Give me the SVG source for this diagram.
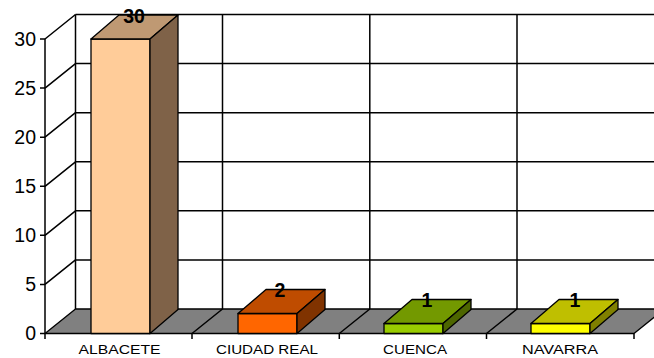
<svg xmlns="http://www.w3.org/2000/svg" width="654" height="358" viewBox="0 0 654 358">
<style>
.g{stroke:#000;stroke-width:1.5;fill:none}
.o{stroke:#000;stroke-width:1.3;stroke-linejoin:round}
.ax{font-family:"Liberation Sans",Arial,sans-serif;font-size:19.5px;fill:#000;text-anchor:end}
.cat{font-family:"Liberation Sans",Arial,sans-serif;font-size:12px;fill:#000;text-anchor:middle}
.val{font-family:"Liberation Sans",Arial,sans-serif;font-size:19.5px;font-weight:bold;fill:#000;text-anchor:middle}
</style>
<rect width="654" height="358" fill="#fff"/>
<g id="walls">
<path class="g" d="M75.5 14.5H660M75.5 63.6H660M75.5 112.7H660M75.5 161.8H660M75.5 210.8H660M75.5 259.9H660"/>
<path class="g" d="M75.5 14.5V309M222.5 14.5V309M369.8 14.5V309M517 14.5V309"/>
<path class="g" d="M45 39L75.5 14.5M45 88.1L75.5 63.6M45 137.2L75.5 112.7M45 186.3L75.5 161.8M45 235.3L75.5 210.8M45 284.4L75.5 259.9"/>
</g>
<g id="floor">
<polygon class="o" points="45,333.5 634,333.5 664.5,309 75.5,309" fill="#808080"/>
<path class="g" d="M192 333.5L222.5 309M339.3 333.5L369.8 309M486.5 333.5L517 309"/>
</g>
<g id="axis">
<path class="g" d="M45 39V333.5M40 39H45M40 88.1H45M40 137.2H45M40 186.3H45M40 235.3H45M40 284.4H45M40 333.5H45"/>
<path class="g" d="M45 333.5V339M192 333.5V339M339.3 333.5V339M486.5 333.5V339M634 333.5V339"/>
<text class="ax" x="36" y="45.8">30</text>
<text class="ax" x="36" y="94.9">25</text>
<text class="ax" x="36" y="144">20</text>
<text class="ax" x="36" y="193.1">15</text>
<text class="ax" x="36" y="242.1">10</text>
<text class="ax" x="36" y="291.2">5</text>
<text class="ax" x="36" y="340.3">0</text>
</g>
<g id="bar-albacete">
<rect class="o" x="91" y="39" width="59" height="294.5" fill="#FFCC99"/>
<polygon class="o" points="91,39 150,39 178,15 119,15" fill="#BF9973"/>
<polygon class="o" points="150,39 178,15 178,309.5 150,333.5" fill="#7F6248"/>
<text class="val" x="134" y="22.5">30</text>
<text class="cat" x="119.5" y="353.5" textLength="82" lengthAdjust="spacingAndGlyphs">ALBACETE</text>
</g>
<g id="bar-ciudad-real">
<rect class="o" x="238" y="313.5" width="59" height="20" fill="#FF6600"/>
<polygon class="o" points="238,313.5 297,313.5 325,289.5 266,289.5" fill="#BF4C00"/>
<polygon class="o" points="297,313.5 325,289.5 325,309.5 297,333.5" fill="#803300"/>
<text class="val" x="280" y="296.5">2</text>
<text class="cat" x="267" y="353.5" textLength="102" lengthAdjust="spacingAndGlyphs">CIUDAD REAL</text>
</g>
<g id="bar-cuenca">
<rect class="o" x="384" y="323.5" width="59" height="10" fill="#99CC00"/>
<polygon class="o" points="384,323.5 443,323.5 471,299.5 412,299.5" fill="#739900"/>
<polygon class="o" points="443,323.5 471,299.5 471,309.5 443,333.5" fill="#4D6600"/>
<text class="val" x="427" y="306.5">1</text>
<text class="cat" x="415" y="353.5" textLength="64" lengthAdjust="spacingAndGlyphs">CUENCA</text>
</g>
<g id="bar-navarra">
<rect class="o" x="531" y="323.5" width="59" height="10" fill="#FFFF00"/>
<polygon class="o" points="531,323.5 590,323.5 618,299.5 559,299.5" fill="#BFBF00"/>
<polygon class="o" points="590,323.5 618,299.5 618,309.5 590,333.5" fill="#808000"/>
<text class="val" x="575" y="306.5">1</text>
<text class="cat" x="560" y="353.5" textLength="76" lengthAdjust="spacingAndGlyphs">NAVARRA</text>
</g>
</svg>
